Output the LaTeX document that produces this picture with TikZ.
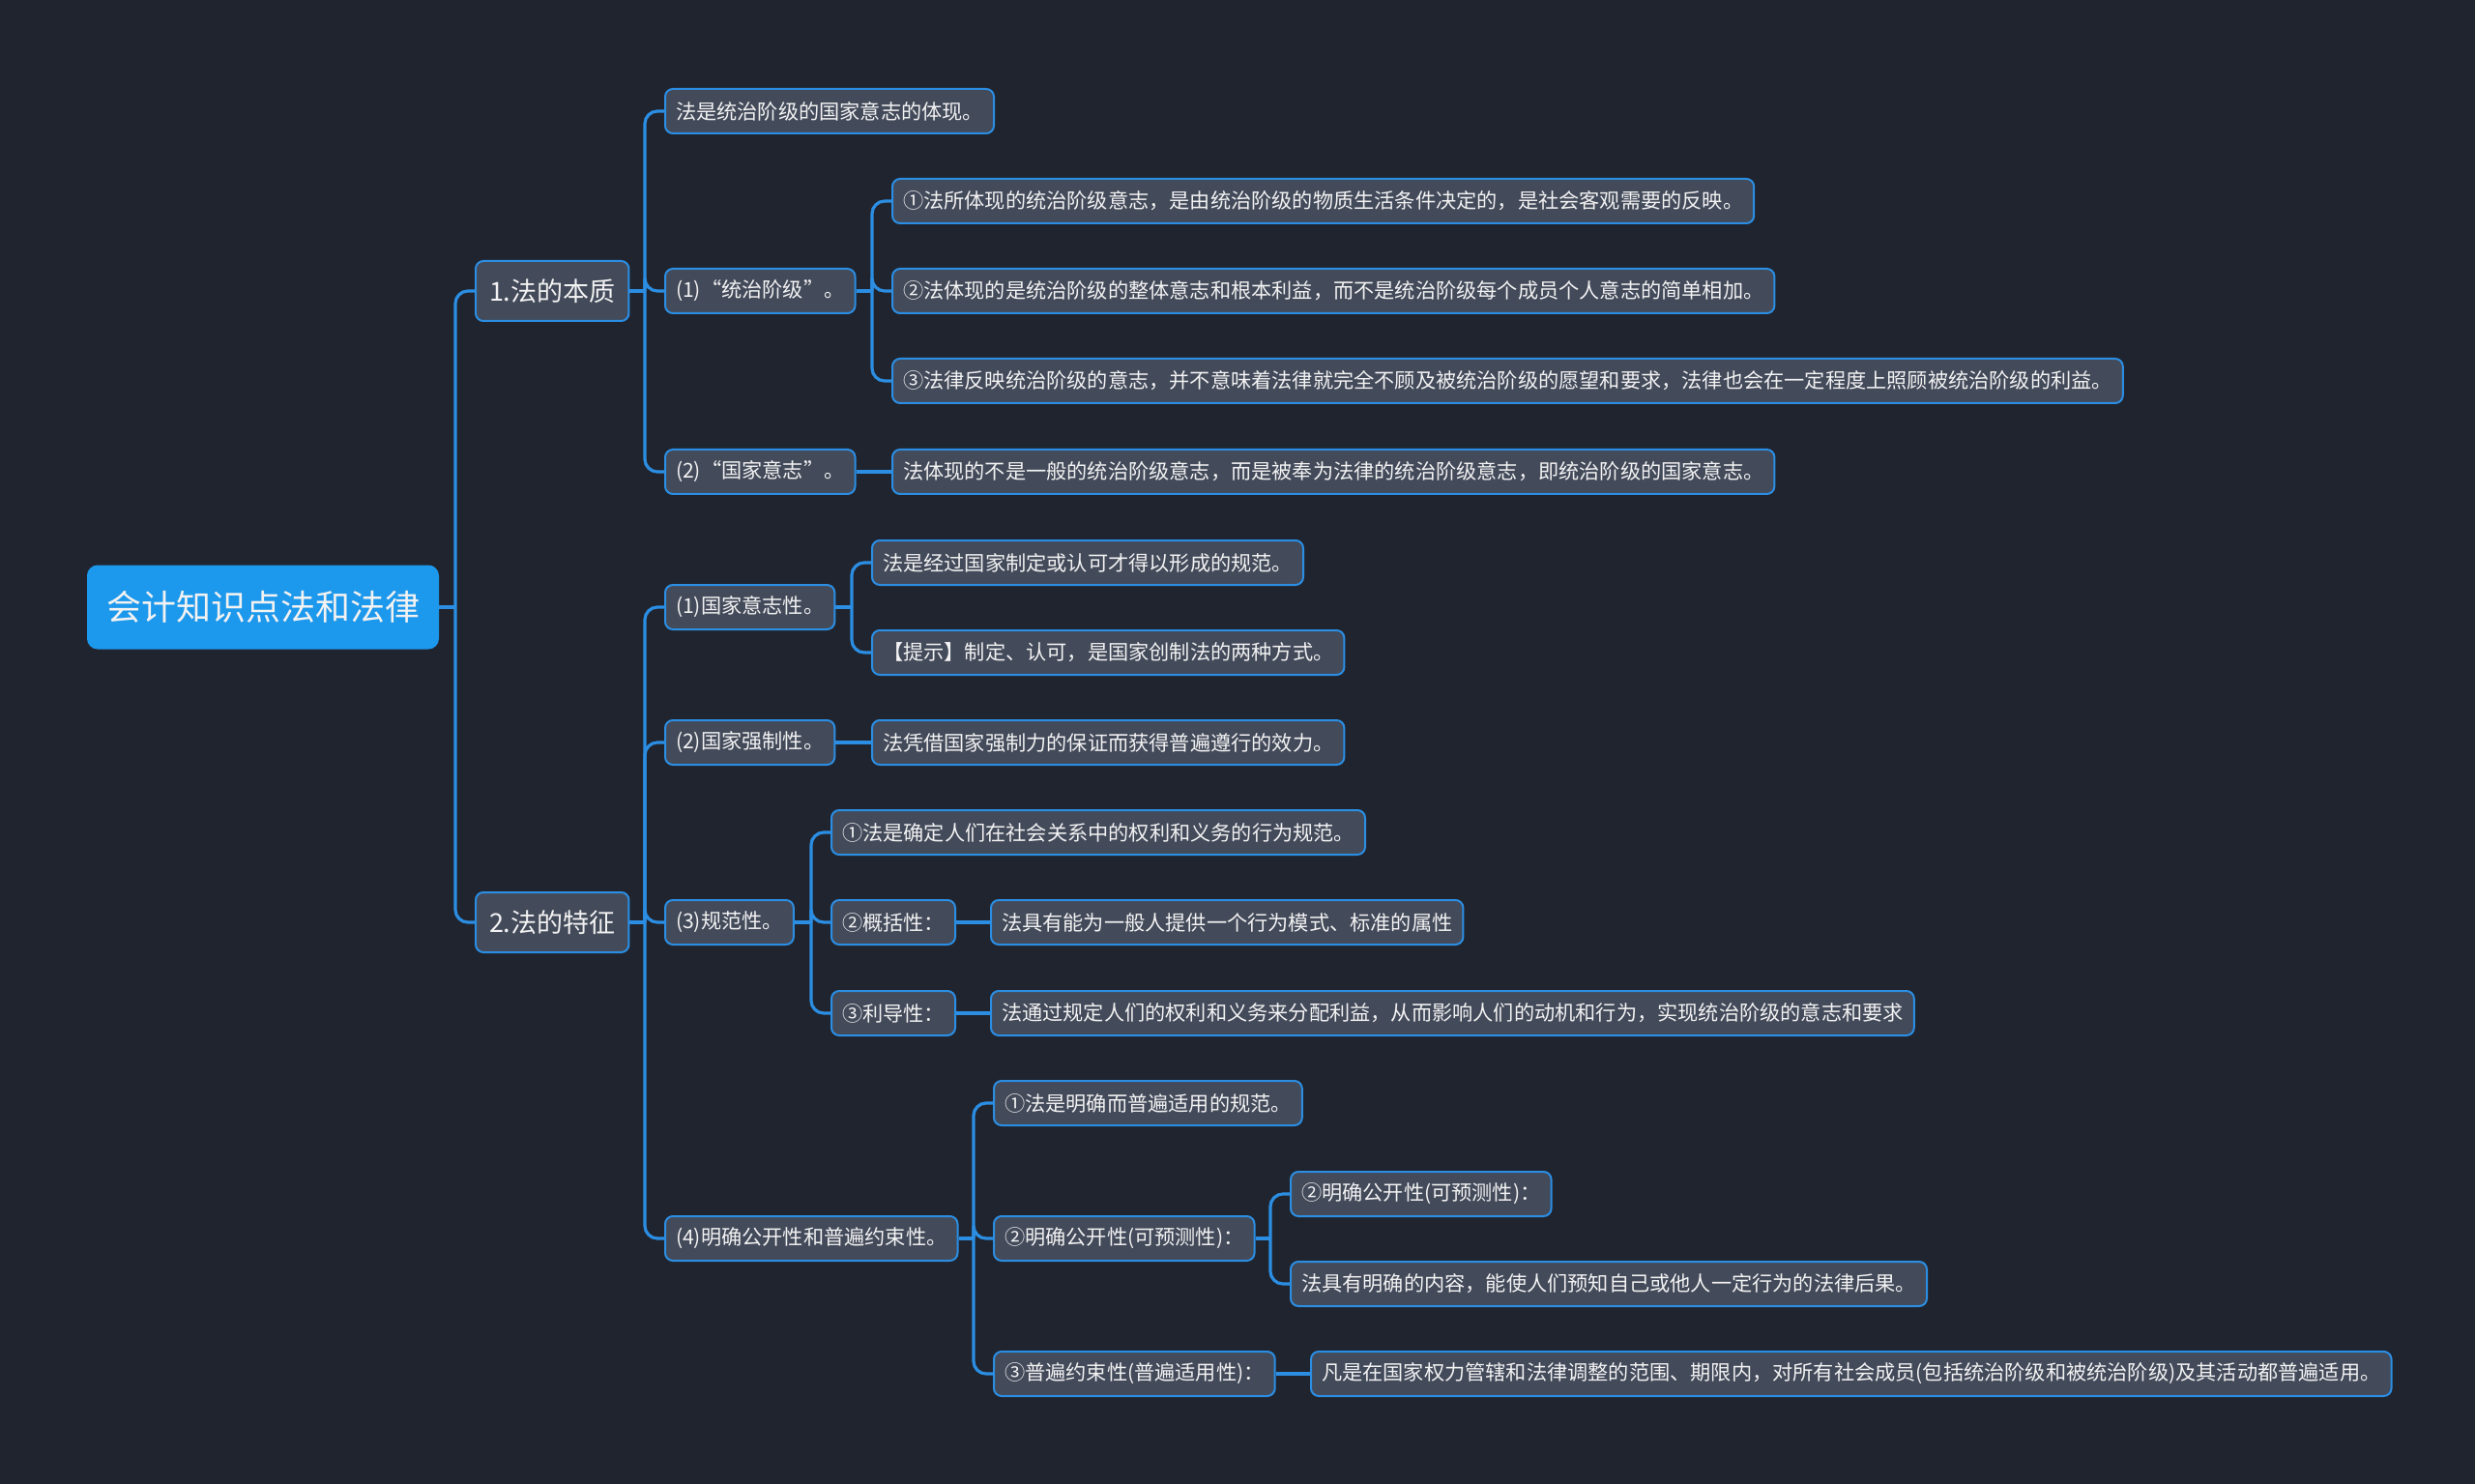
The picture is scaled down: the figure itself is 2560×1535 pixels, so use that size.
\documentclass[tikz,border=0pt]{standalone}
\usepackage{fontspec}
\setmainfont{Noto Sans CJK SC}
\usetikzlibrary{calc}

\definecolor{bgdark}{HTML}{20242E}
\definecolor{boxgray}{HTML}{434A5A}
\definecolor{linkblue}{HTML}{2B8EE3}
\definecolor{rootblue}{HTML}{1C98EC}
\definecolor{txtlight}{HTML}{F2F2F2}

\begin{document}
\begin{tikzpicture}[x=0.5pt, y=-0.5pt,
  box/.style={draw=linkblue, line width=1pt, fill=boxgray, rounded corners=4pt,
    text=txtlight, font=\fontsize{10.6}{12}\selectfont, inner xsep=5.5pt,
    inner ysep=0pt, minimum height=23pt, anchor=west},
  topic/.style={box, font=\fontsize{13.5}{15}\selectfont, inner xsep=7pt, minimum height=31pt},
  rootbox/.style={box, fill=rootblue, draw=rootblue, font=\fontsize{18}{20}\selectfont,
    inner xsep=9.5pt, minimum height=42.5pt, rounded corners=5pt},
  link/.style={draw=linkblue, line width=1.6pt},
  elbow/.style={link, rounded corners=6.5pt}]
  \fill[bgdark] (0,0) rectangle (2560,1535);
  \useasboundingbox (0,0) rectangle (2560,1535);

  \node[rootbox] (root) at (90,628) {会计知识点法和法律};

  \node[topic] (ess) at (491,301) {1.法的本质};
  \node[topic] (feat) at (491,954) {2.法的特征};

  % 1.法的本质
  \node[box] (e0) at (687,115) {法是统治阶级的国家意志的体现。};
  \node[box] (e1) at (687,301) {(1)“统治阶级”。};
  \node[box] (e2) at (687,488) {(2)“国家意志”。};
  \node[box] (e1a) at (922,208) {①法所体现的统治阶级意志，是由统治阶级的物质生活条件决定的，是社会客观需要的反映。};
  \node[box] (e1b) at (922,301) {②法体现的是统治阶级的整体意志和根本利益，而不是统治阶级每个成员个人意志的简单相加。};
  \node[box] (e1c) at (922,394) {③法律反映统治阶级的意志，并不意味着法律就完全不顾及被统治阶级的愿望和要求，法律也会在一定程度上照顾被统治阶级的利益。};
  \node[box] (e2a) at (922,488) {法体现的不是一般的统治阶级意志，而是被奉为法律的统治阶级意志，即统治阶级的国家意志。};

  % 2.法的特征
  \node[box] (f1) at (687,628) {(1)国家意志性。};
  \node[box] (f2) at (687,768) {(2)国家强制性。};
  \node[box] (f3) at (687,954) {(3)规范性。};
  \node[box] (f4) at (687,1281) {(4)明确公开性和普遍约束性。};
  \node[box] (f1a) at (901,582) {法是经过国家制定或认可才得以形成的规范。};
  \node[box] (f1b) at (901,675) {【提示】制定、认可，是国家创制法的两种方式。};
  \node[box] (f2a) at (901,768) {法凭借国家强制力的保证而获得普遍遵行的效力。};
  \node[box] (f3a) at (859,861) {①法是确定人们在社会关系中的权利和义务的行为规范。};
  \node[box] (f3b) at (859,954) {②概括性：};
  \node[box] (f3c) at (859,1048) {③利导性：};
  \node[box] (f3b1) at (1024,954) {法具有能为一般人提供一个行为模式、标准的属性};
  \node[box] (f3c1) at (1024,1048) {法通过规定人们的权利和义务来分配利益，从而影响人们的动机和行为，实现统治阶级的意志和要求};
  \node[box] (f4a) at (1027,1141) {①法是明确而普遍适用的规范。};
  \node[box] (f4b) at (1027,1281) {②明确公开性(可预测性)：};
  \node[box] (f4c) at (1027,1421) {③普遍约束性(普遍适用性)：};
  \node[box] (f4b1) at (1334,1235) {②明确公开性(可预测性)：};
  \node[box] (f4b2) at (1334,1328) {法具有明确的内容，能使人们预知自己或他人一定行为的法律后果。};
  \node[box] (f4c1) at (1355,1421) {凡是在国家权力管辖和法律调整的范围、期限内，对所有社会成员(包括统治阶级和被统治阶级)及其活动都普遍适用。};

  % trunks
  \coordinate (tr0) at ([xshift=-10pt]root.east -| ess.west);
  \coordinate (tr1) at ([xshift=-10pt]ess.east -| e1.west);
  \coordinate (tr2) at ([xshift=-10pt]feat.east -| f1.west);
  \coordinate (tr3) at ([xshift=-10pt]e1.east -| e1a.west);
  \coordinate (tr4) at ([xshift=-10pt]f1.east -| f1a.west);
  \coordinate (tr5) at ([xshift=-10pt]f3.east -| f3a.west);
  \coordinate (tr6) at ([xshift=-10pt]f4.east -| f4a.west);
  \coordinate (tr7) at ([xshift=-10pt]f4b.east -| f4b1.west);

  \draw[link] (root.east) -- (tr0);
  \draw[link] (ess.east) -- (tr1);
  \draw[link] (feat.east) -- (tr2);
  \draw[link] (e1.east) -- (tr3);
  \draw[link] (f1.east) -- (tr4);
  \draw[link] (f3.east) -- (tr5);
  \draw[link] (f4.east) -- (tr6);
  \draw[link] (f4b.east) -- (tr7);

  \foreach \c in {ess,feat} \draw[elbow] (tr0) |- (\c.west);
  \foreach \c in {e0,e1,e2} \draw[elbow] (tr1) |- (\c.west);
  \foreach \c in {f1,f2,f3,f4} \draw[elbow] (tr2) |- (\c.west);
  \foreach \c in {e1a,e1b,e1c} \draw[elbow] (tr3) |- (\c.west);
  \foreach \c in {f1a,f1b} \draw[elbow] (tr4) |- (\c.west);
  \foreach \c in {f3a,f3b,f3c} \draw[elbow] (tr5) |- (\c.west);
  \foreach \c in {f4a,f4b,f4c} \draw[elbow] (tr6) |- (\c.west);
  \foreach \c in {f4b1,f4b2} \draw[elbow] (tr7) |- (\c.west);

  \draw[link] (e2.east) -- (e2a.west);
  \draw[link] (f2.east) -- (f2a.west);
  \draw[link] (f3b.east) -- (f3b1.west);
  \draw[link] (f3c.east) -- (f3c1.west);
  \draw[link] (f4c.east) -- (f4c1.west);
\end{tikzpicture}
\end{document}
